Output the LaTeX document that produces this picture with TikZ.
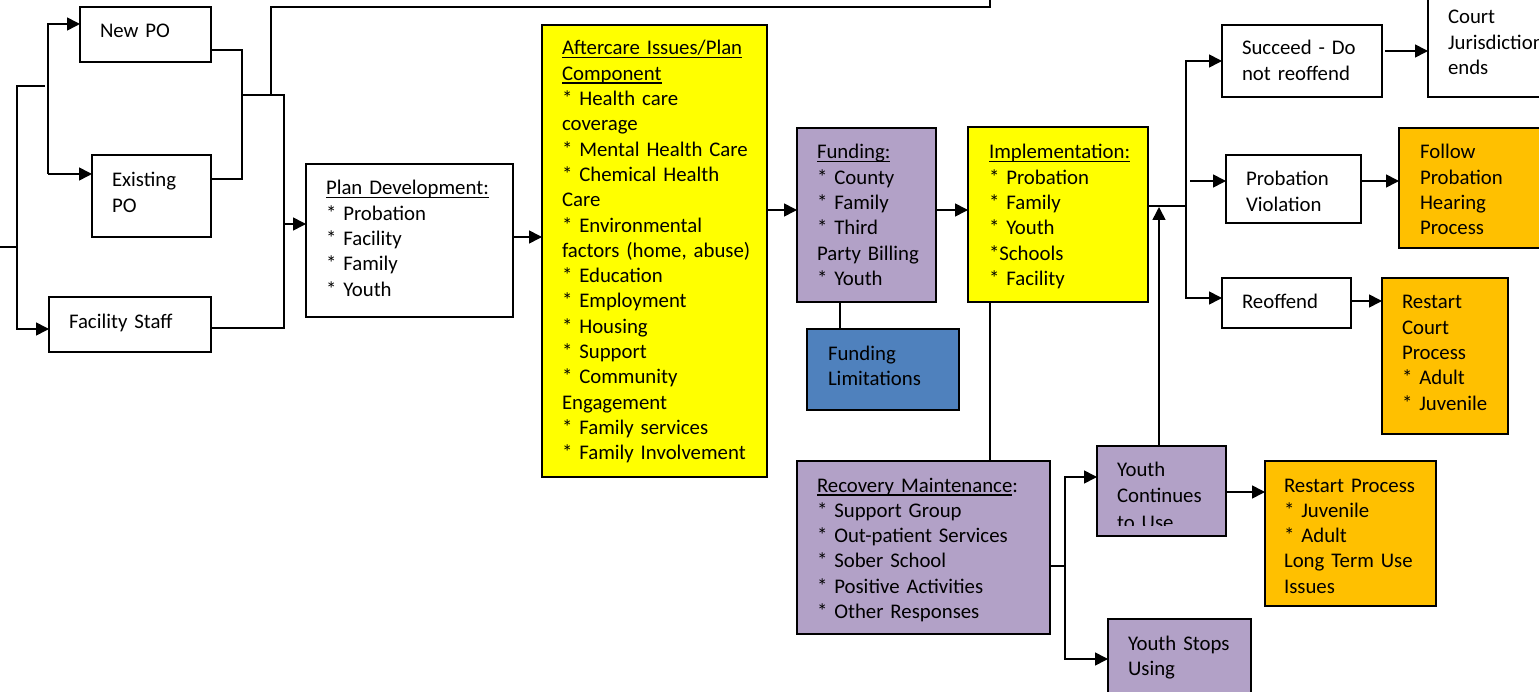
\documentclass[tikz,border=0pt]{standalone}
\usepackage{fontspec}
\setmainfont{Carlito}
\usetikzlibrary{arrows.meta,calc}
\definecolor{yel}{HTML}{FFFF00}
\definecolor{pur}{HTML}{B2A1C7}
\definecolor{blu}{HTML}{4F81BD}
\definecolor{ora}{HTML}{FFC000}
\newsavebox\ulbox
\newcommand\myul[1]{\leavevmode\sbox\ulbox{#1}\rlap{\rule[-3.5pt]{\wd\ulbox}{1.5pt}}\usebox\ulbox}
\newcommand\fs{\fontsize{20.8}{25.3}\selectfont}
\newcommand\nl{\\{}}
\begin{document}
\begin{tikzpicture}[x=1pt,y=-1pt,
  box/.style={draw=black, line width=1.6pt, inner sep=0pt, outer sep=0pt, anchor=north west, fill=white},
  txt/.style={anchor=base west, inner sep=0pt, outer sep=0pt, align=left, text width=300pt, font=\fs},
  conn/.style={line width=1.6pt},
  arr/.style={line width=1.6pt, -{Triangle[length=13pt,width=13pt]}}]
\useasboundingbox (0,0) rectangle (1539,692);
% boxes
\node[box, minimum width=131pt, minimum height=55pt] (np) at (80,7) {};
\node[box, minimum width=119pt, minimum height=82pt] (ep) at (92,155) {};
\node[box, minimum width=162pt, minimum height=55pt] (fs) at (49,297) {};
\node[box, minimum width=207pt, minimum height=153pt] (pd) at (306,164) {};
\node[box, fill=yel, minimum width=225pt, minimum height=452pt] (ac) at (542,25) {};
\node[box, fill=pur, minimum width=139pt, minimum height=174pt] (fu) at (797,128) {};
\node[box, fill=blu, minimum width=152pt, minimum height=81pt] (fl) at (807,329) {};
\node[box, fill=yel, minimum width=180pt, minimum height=175pt] (im) at (968,127) {};
\node[box, minimum width=160pt, minimum height=72pt] (su) at (1222,25) {};
\node[box, minimum width=150pt, minimum height=127pt] (cj) at (1428,-30) {};
\node[box, minimum width=135pt, minimum height=68pt] (pv) at (1226,155) {};
\node[box, fill=ora, minimum width=160pt, minimum height=120pt] (fp) at (1399,128) {};
\node[box, minimum width=129pt, minimum height=50pt] (ro) at (1222,278) {};
\node[box, fill=ora, minimum width=126pt, minimum height=156pt] (rc) at (1382,278) {};
\node[box, fill=pur, minimum width=253pt, minimum height=173pt] (rm) at (797,461) {};
\node[box, fill=pur, minimum width=129pt, minimum height=90pt] (yc) at (1097,446) {};
\node[box, fill=pur, minimum width=143pt, minimum height=100pt] (ys) at (1108,619) {};
\node[box, fill=ora, minimum width=171pt, minimum height=145pt] (rp) at (1265,461) {};
% texts
\node[txt] (npt) at ($(np.north west)+(20,31)$) {New PO};
\node[txt] (ept) at ($(ep.north west)+(20,32)$) {Existing\nl PO};
\node[txt] (fst) at ($(fs.north west)+(20,32)$) {Facility Staff};
\node[txt] (pdt) at ($(pd.north west)+(20,31)$) {\myul{Plan Development:}\nl * Probation\nl * Facility\nl * Family\nl * Youth};
\node[txt] (act) at ($(ac.north west)+(20,30)$) {\myul{Aftercare Issues/Plan}\nl \myul{Component}\nl * Health care\nl coverage\nl * Mental Health Care\nl * Chemical Health\nl Care\nl * Environmental\nl factors (home, abuse)\nl * Education\nl * Employment\nl * Housing\nl * Support\nl * Community\nl Engagement\nl * Family services\nl * Family Involvement};
\node[txt] (fut) at ($(fu.north west)+(20,31)$) {\myul{Funding:}\nl * County\nl * Family\nl * Third\nl Party Billing\nl * Youth};
\node[txt] (flt) at ($(fl.north west)+(21,31)$) {Funding\nl Limitations};
\node[txt] (imt) at ($(im.north west)+(21,32)$) {\myul{Implementation:}\nl * Probation\nl * Family\nl * Youth\nl *Schools\nl * Facility};
\node[txt] (sut) at ($(su.north west)+(20,30)$) {Succeed - Do\nl not reoffend};
\node[txt] (cjt) at ($(cj.north west)+(20,54)$) {Court\nl Jurisdiction\nl ends};
\node[txt] (pvt) at ($(pv.north west)+(20,31)$) {Probation\nl Violation};
\node[txt] (fpt) at ($(fp.north west)+(21,31)$) {Follow\nl Probation\nl Hearing\nl Process};
\node[txt] (rot) at ($(ro.north west)+(20,31)$) {Reoffend};
\node[txt] (rct) at ($(rc.north west)+(20,31)$) {Restart\nl Court\nl Process\nl * Adult\nl * Juvenile};
\node[txt] (rmt) at ($(rm.north west)+(20,31)$) {\myul{Recovery Maintenance}:\nl * Support Group\nl * Out-patient Services\nl * Sober School\nl * Positive Activities\nl * Other Responses};
\begin{scope}
\clip (yc.north west) rectangle (1226,525);
\node[txt, font=\fontsize{20.8}{26.5}\selectfont] (yct) at ($(yc.north west)+(20,30)$) {Youth\nl Continues\nl to Use};
\end{scope}
\node[txt] (yst) at ($(ys.north west)+(20,31)$) {Youth Stops\nl Using};
\node[txt] (rpt) at ($(rp.north west)+(19,31)$) {Restart Process\nl * Juvenile\nl * Adult\nl Long Term Use\nl Issues};
% left connectors
\coordinate (in0) at (0,247);
\coordinate (in1) at (17,247);
\coordinate (lt) at (17,86);
\coordinate (lte) at (45,86);
\coordinate (lb) at (17,329);
\draw[conn] (in0) -- (in1);
\draw[arr] (lte) -- (lt) -- (lb) -- (lb -| fs.west);
\coordinate (b0t) at (48,24);
\coordinate (b0b) at (48,174);
\draw[arr] (b0b) -- (b0t) -- (b0t -| np.west);
\draw[arr] (b0b) -- (b0b -| ep.west);
\coordinate (b1t) at (242,50);
\coordinate (b1b) at (242,179);
\draw[conn] (b1t -| np.east) -- (b1t) -- (b1b) -- (b1b -| ep.east);
\coordinate (b1m) at (242,95);
\coordinate (b2t) at (284,95);
\coordinate (b2b) at (284,328);
\draw[conn] (b1m) -- (b2t) -- (b2b) -- (b2b -| fs.east);
\coordinate (b2a) at (284,224);
\draw[arr] (b2a) -- (b2a -| pd.west);
\coordinate (tp0) at (271,95);
\coordinate (tp1) at (271,7);
\coordinate (tp2) at (990,7);
\coordinate (tp3) at (990,-12);
\draw[conn] (tp0) -- (tp1) -- (tp2) -- (tp3);
% middle connectors
\coordinate (a1) at (0,237);
\draw[arr] (a1 -| pd.east) -- (a1 -| ac.west);
\coordinate (a2) at (0,210);
\draw[arr] (a2 -| ac.east) -- (a2 -| fu.west);
\draw[arr] (a2 -| fu.east) -- (a2 -| im.west);
\coordinate (a3) at (840,0);
\draw[conn] (a3 |- fu.south) -- (a3 |- fl.north);
\coordinate (a4) at (990,0);
\draw[conn] (a4 |- im.south) -- (a4 |- rm.north);
% right connectors
\coordinate (b3t) at (1186,61);
\coordinate (b3b) at (1186,298);
\coordinate (b3m) at (1186,206);
\draw[conn] (b3m -| im.east) -- (b3m);
\draw[arr] (b3m) -- (b3t) -- (b3t -| su.west);
\draw[arr] (b3m) -- (b3b) -- (b3b -| ro.west);
\coordinate (pvin) at (1190,181);
\draw[arr] (pvin) -- (pvin -| pv.west);
\coordinate (cjin) at (1385,51);
\draw[arr] (cjin) -- (cjin -| cj.west);
\draw[arr] (pvin -| pv.east) -- (pvin -| fp.west);
\coordinate (roin) at (0,301);
\draw[arr] (roin -| ro.east) -- (roin -| rc.west);
% bottom connectors
\coordinate (b4m) at (1065,566);
\coordinate (b4t) at (1065,477);
\coordinate (b4b) at (1065,659);
\draw[conn] (b4m -| rm.east) -- (b4m);
\draw[arr] (b4m) -- (b4t) -- (b4t -| yc.west);
\draw[arr] (b4m) -- (b4b) -- (b4b -| ys.west);
\coordinate (up) at (1159,207);
\draw[arr] (up |- yc.north) -- (up);
\coordinate (a5) at (0,492);
\draw[arr] (a5 -| yc.east) -- (a5 -| rp.west);
\end{tikzpicture}
\end{document}
